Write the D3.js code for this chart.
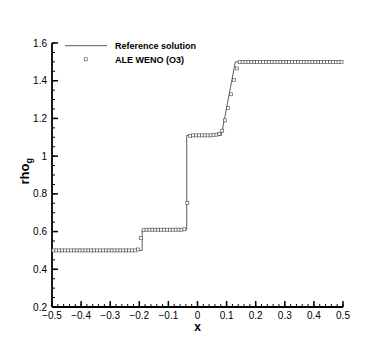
<!DOCTYPE html>
<html>
<head>
<meta charset="utf-8">
<script src="https://cdn.jsdelivr.net/npm/d3@7"></script>
<style>
	body { margin: 0; background: #fff; }
	text { font-family: "Liberation Sans", Arial, sans-serif; }
</style>
</head>
<body>
<svg id="chart" width="390" height="347"></svg>
<script>
// reference solution (piecewise)
var refX = [-0.5, -0.19, -0.19, -0.037, -0.037, 0.082, 0.13, 0.5];
var refRho = [0.5, 0.5, 0.61, 0.61, 1.11, 1.11, 1.5, 1.5];

// ALE WENO (O3) cell values, 100 cells
var cellX = d3.range(100).map(function(i) { return -0.495 + i * 0.01; });
var wenoRho = [
	0.5, 0.5, 0.5, 0.5, 0.5, 0.5, 0.5, 0.5, 0.5, 0.5,
	0.5, 0.5, 0.5, 0.5, 0.5, 0.5, 0.5, 0.5, 0.5, 0.5,
	0.5, 0.5, 0.5, 0.5, 0.5, 0.5, 0.5, 0.5, 0.5, 0.505,
	0.567, 0.607, 0.61, 0.61, 0.61, 0.61, 0.61, 0.61, 0.61, 0.61,
	0.61, 0.61, 0.61, 0.61, 0.61, 0.612, 0.752, 1.108, 1.11, 1.11,
	1.11, 1.11, 1.11, 1.11, 1.11, 1.112, 1.114, 1.118, 1.135, 1.19,
	1.255, 1.328, 1.403, 1.465, 1.498, 1.5, 1.5, 1.5, 1.5, 1.5,
	1.5, 1.5, 1.5, 1.5, 1.5, 1.5, 1.5, 1.5, 1.5, 1.5,
	1.5, 1.5, 1.5, 1.5, 1.5, 1.5, 1.5, 1.5, 1.5, 1.5,
	1.5, 1.5, 1.5, 1.5, 1.5, 1.5, 1.5, 1.5, 1.5, 1.5
];

var xMajor = [-0.5, -0.4, -0.3, -0.2, -0.1, 0, 0.1, 0.2, 0.3, 0.4, 0.5];
var yMajor = [0.2, 0.4, 0.6, 0.8, 1, 1.2, 1.4, 1.6];
var legendLabels = ["Reference solution", "ALE WENO (O3)"];

var svg = d3.select("#chart");
var plot = { left: 52, right: 343, top: 43, bottom: 307 };

var x = d3.scaleLinear().domain([-0.5, 0.5]).range([plot.left, plot.right]);
var y = d3.scaleLinear().domain([0.2, 1.6]).range([plot.bottom, plot.top]);

var xMinor = d3.range(-0.5, 0.5001, 0.02).map(function(v) { return Math.round(v * 100) / 100; });
var yMinor = d3.range(0.2, 1.6001, 0.05).map(function(v) { return Math.round(v * 100) / 100; });

function fmt(v) {
	return d3.format("")(v);
}

// minor ticks
svg.append("g").selectAll("line").data(xMinor).enter().append("line")
	.attr("x1", function(d) { return x(d); }).attr("x2", function(d) { return x(d); })
	.attr("y1", plot.bottom).attr("y2", plot.bottom - 3)
	.attr("stroke", "#000").attr("stroke-width", 1);
svg.append("g").selectAll("line").data(yMinor).enter().append("line")
	.attr("y1", function(d) { return y(d); }).attr("y2", function(d) { return y(d); })
	.attr("x1", plot.left).attr("x2", plot.left + 3)
	.attr("stroke", "#000").attr("stroke-width", 1);

// major ticks
svg.append("g").selectAll("line").data(xMajor).enter().append("line")
	.attr("x1", function(d) { return x(d); }).attr("x2", function(d) { return x(d); })
	.attr("y1", plot.bottom).attr("y2", plot.bottom - 6)
	.attr("stroke", "#000").attr("stroke-width", 1.5);
svg.append("g").selectAll("line").data(yMajor).enter().append("line")
	.attr("y1", function(d) { return y(d); }).attr("y2", function(d) { return y(d); })
	.attr("x1", plot.left).attr("x2", plot.left + 6)
	.attr("stroke", "#000").attr("stroke-width", 1.5);

// axis lines
svg.append("line").attr("x1", plot.left).attr("x2", plot.right).attr("y1", plot.bottom).attr("y2", plot.bottom)
	.attr("stroke", "#000").attr("stroke-width", 1.8);
svg.append("line").attr("x1", plot.left).attr("x2", plot.left).attr("y1", plot.top).attr("y2", plot.bottom)
	.attr("stroke", "#000").attr("stroke-width", 1.8);

// tick labels
svg.append("g").selectAll("text").data(xMajor).enter().append("text")
	.attr("x", function(d) { return x(d); }).attr("y", plot.bottom + 11.5)
	.attr("text-anchor", "middle").attr("font-size", 10)
	.text(fmt);
svg.append("g").selectAll("text").data(yMajor).enter().append("text")
	.attr("x", plot.left - 5).attr("y", function(d) { return y(d) + 3.5; })
	.attr("text-anchor", "end").attr("font-size", 10)
	.text(fmt);

// axis titles
svg.append("text").attr("x", x(0)).attr("y", 331)
	.attr("text-anchor", "middle").attr("font-size", 12).attr("font-weight", "bold")
	.text("x");
var yt = svg.append("text").attr("transform", "translate(29," + y(0.92) + ") rotate(-90)")
	.attr("text-anchor", "middle").attr("font-size", 13).attr("font-weight", "bold");
yt.append("tspan").text("rho");
yt.append("tspan").attr("font-size", 9).attr("dy", 3).text("g");

// reference line
var line = d3.line()
	.x(function(d, i) { return x(refX[i]); })
	.y(function(d) { return y(d); });
svg.append("path").datum(refRho).attr("d", line)
	.attr("fill", "none").attr("stroke", "#333").attr("stroke-width", 0.8);

// weno squares
svg.append("g").selectAll("rect").data(wenoRho).enter().append("rect")
	.attr("x", function(d, i) { return x(cellX[i]) - 1.5; })
	.attr("y", function(d) { return y(d) - 1.5; })
	.attr("width", 3).attr("height", 3)
	.attr("fill", "#fff").attr("stroke", "#444").attr("stroke-width", 0.6);

// legend
svg.append("line").attr("x1", 65).attr("x2", 107).attr("y1", 45.7).attr("y2", 45.7)
	.attr("stroke", "#333").attr("stroke-width", 0.8);
svg.append("rect").attr("x", 84.2).attr("y", 57.8).attr("width", 3).attr("height", 3)
	.attr("fill", "#fff").attr("stroke", "#444").attr("stroke-width", 0.6);
svg.append("g").selectAll("text").data(legendLabels).enter().append("text")
	.attr("x", 115).attr("y", function(d, i) { return 49 + i * 13.5; })
	.attr("font-size", 9).attr("font-weight", "bold")
	.text(function(d) { return d; });
</script>
</body>
</html>
